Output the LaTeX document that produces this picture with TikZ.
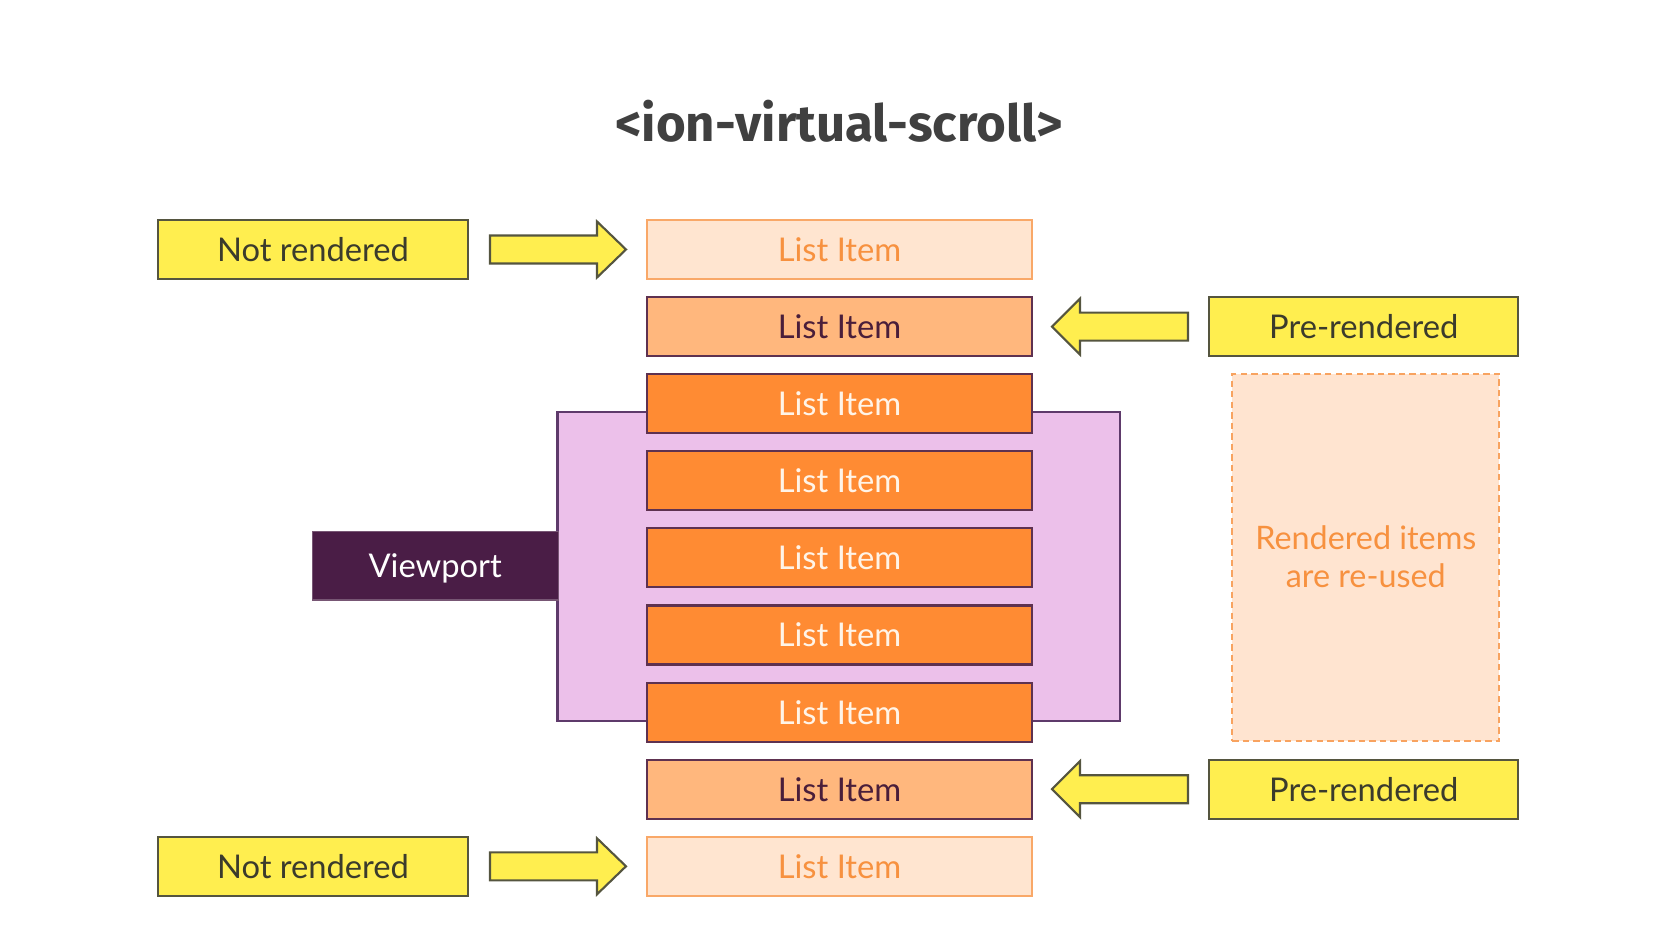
\documentclass[tikz,border=0pt]{standalone}
\usepackage{fontspec}
\setmainfont{Lato}
\newfontfamily\titlefont{Fira Sans}
\usepackage{tikz}

\definecolor{notyellow}{HTML}{FFEE4F}
\definecolor{yellowline}{HTML}{55553F}
\definecolor{lightfill}{HTML}{FFE5D0}
\definecolor{lightline}{HTML}{F9A868}
\definecolor{lighttext}{HTML}{F7913F}
\definecolor{midfill}{HTML}{FFB77D}
\definecolor{itemline}{HTML}{5E3150}
\definecolor{midtext}{HTML}{4A1E3A}
\definecolor{darkfill}{HTML}{FF8B33}
\definecolor{darktext}{HTML}{FFF4E8}
\definecolor{viewfill}{HTML}{ECC0EA}
\definecolor{viewline}{HTML}{5E3A6B}
\definecolor{viewlabel}{HTML}{4A1D46}
\definecolor{reusefill}{HTML}{FFE4D0}
\definecolor{reuseline}{HTML}{F8A360}
\definecolor{titlegray}{HTML}{404040}

\tikzset{
  box/.style={rectangle, inner sep=0pt, text depth=0pt, line width=0.6pt,
    font=\fontsize{9.3}{11}\selectfont},
  hint/.style={box, fill=notyellow, draw=yellowline, text=yellowline!70!black,
    minimum width=3.09cm, minimum height=0.59cm},
  item/.style={box, minimum width=3.845cm, minimum height=0.59cm},
  gone/.style={item, fill=lightfill, draw=lightline, text=lighttext},
  pre/.style={item, fill=midfill, draw=itemline, text=midtext},
  shown/.style={item, fill=darkfill, draw=itemline, text=darktext},
  blockarrow/.style={fill=notyellow, draw=yellowline, line width=0.6pt, line join=miter}
}

\begin{document}
\begin{tikzpicture}[x=0.01cm,y=-0.01cm]
            \useasboundingbox (0,0) rectangle (1670,940);
            \node[font=\titlefont\bfseries\fontsize{14.5}{17}\selectfont, text=titlegray, anchor=base] (title) at (839,142) {<ion-virtual-scroll>};
            % viewport
            \node[rectangle, fill=viewfill, draw=viewline, line width=0.6pt, minimum width=5.623cm, minimum height=3.093cm, inner sep=0pt] (view) at (838.85,566.35) {};
            \node[box, fill=viewlabel, draw=viewlabel!75!white, line width=0.3pt, text=white, minimum width=2.457cm, minimum height=0.683cm] (viewlabel) at (435.15,565.85) {Viewport};
            % list
            \node[gone] (item1) at (839.5,249.5) {List Item};
            \node[pre] (item2) at (839.5,326.6) {List Item};
            \node[shown] (item3) at (839.5,403.7) {List Item};
            \node[shown] (item4) at (839.5,480.8) {List Item};
            \node[shown] (item5) at (839.5,557.9) {List Item};
            \node[shown] (item6) at (839.5,635) {List Item};
            \node[shown] (item7) at (839.5,712.1) {List Item};
            \node[pre] (item8) at (839.5,789.2) {List Item};
            \node[gone] (item9) at (839.5,866.3) {List Item};
            % labels
            \node[hint] (nr1) at (313,249.5) {Not rendered};
            \node[hint] (nr2) at (313,866.3) {Not rendered};
            \node[hint] (pr1) at (1363.7,326.6) {Pre-rendered};
            \node[hint] (pr2) at (1363.7,789.2) {Pre-rendered};
            \node[rectangle, fill=reusefill, draw=reuseline, dash pattern=on 1.8pt off 1.2pt, line width=0.6pt, minimum width=2.67cm, minimum height=3.664cm, inner sep=0pt] (reuse) at (1365.8,557.5) {};
            \node[text=lighttext, align=center, text depth=0pt, font=\fontsize{9.2}{10.8}\selectfont] (reusetext) at (1365.8,557) {Rendered items\\are re-used};
            % arrows
            \draw[blockarrow] (490,235.5) -- (597,235.5) -- (597,221.5) -- (626,249.5) -- (597,277.5) -- (597,263.5) -- (490,263.5) -- cycle;
            \draw[blockarrow] (490,852.3) -- (597,852.3) -- (597,838.3) -- (626,866.3) -- (597,894.3) -- (597,880.3) -- (490,880.3) -- cycle;
            \draw[blockarrow] (1188,312.6) -- (1080,312.6) -- (1080,298.6) -- (1052,326.6) -- (1080,354.6) -- (1080,340.6) -- (1188,340.6) -- cycle;
            \draw[blockarrow] (1188,775.2) -- (1080,775.2) -- (1080,761.2) -- (1052,789.2) -- (1080,817.2) -- (1080,803.2) -- (1188,803.2) -- cycle;
        \end{tikzpicture}
\end{document}
